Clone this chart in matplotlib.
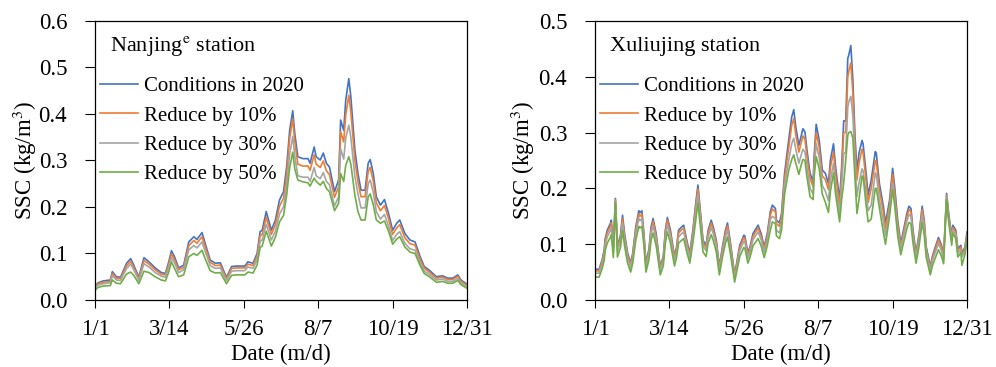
#!/usr/bin/env python3
"""
SSC time series at Nanjing and Xuliujing stations under sediment-reduction scenarios.
"""

import matplotlib
matplotlib.use('Agg')
import matplotlib.pyplot as plt

plt.rcParams['font.family'] = ['Liberation Serif', 'DejaVu Serif']
plt.rcParams['mathtext.fontset'] = 'stix'

# Series labels and colours
labels = ['Conditions in 2020', 'Reduce by 10%', 'Reduce by 30%', 'Reduce by 50%']
colors = ['#4472C4', '#ED7D31', '#A5A5A5', '#70AD47']

date_ticks = [0, 73, 146, 219, 292, 365]
date_labels = ['1/1', '3/14', '5/26', '8/7', '10/19', '12/31']

# Nanjing station (day of year, SSC in kg/m3)
nj_day = [0, 3, 8, 15, 17, 21, 25, 31, 35, 38,
          43, 48, 53, 59, 65, 69, 72, 75, 78, 82,
          87, 92, 97, 100, 105, 108, 113, 118, 123, 126,
          129, 134, 139, 147, 150, 155, 159, 162, 164, 168,
          173, 177, 181, 185, 188, 191, 194, 196, 199, 204,
          209, 211, 215, 217, 221, 224, 227, 230, 235, 239,
          241, 244, 246, 249, 251, 255, 258, 261, 265, 268,
          270, 273, 276, 280, 284, 288, 292, 296, 299, 304,
          309, 314, 319, 323, 328, 335, 341, 346, 351, 356,
          359, 365]
nj_base = [0.030, 0.037, 0.041, 0.043, 0.061, 0.050, 0.049, 0.079, 0.089, 0.075,
           0.049, 0.091, 0.082, 0.069, 0.059, 0.057, 0.079, 0.106, 0.093, 0.069,
           0.075, 0.125, 0.136, 0.130, 0.145, 0.122, 0.086, 0.079, 0.080, 0.064,
           0.049, 0.072, 0.073, 0.073, 0.082, 0.079, 0.100, 0.147, 0.150, 0.190,
           0.150, 0.172, 0.215, 0.233, 0.286, 0.365, 0.407, 0.358, 0.308, 0.304,
           0.304, 0.294, 0.329, 0.308, 0.301, 0.316, 0.294, 0.286, 0.233, 0.258,
           0.387, 0.365, 0.430, 0.476, 0.437, 0.322, 0.272, 0.236, 0.236, 0.294,
           0.302, 0.272, 0.222, 0.204, 0.216, 0.186, 0.150, 0.165, 0.172, 0.143,
           0.129, 0.125, 0.093, 0.072, 0.064, 0.050, 0.052, 0.047, 0.047, 0.054,
           0.043, 0.034]
nj_r10 = [0.028, 0.035, 0.038, 0.040, 0.057, 0.047, 0.046, 0.074, 0.083, 0.070,
          0.046, 0.085, 0.077, 0.065, 0.055, 0.054, 0.074, 0.099, 0.087, 0.065,
          0.070, 0.117, 0.128, 0.122, 0.136, 0.115, 0.081, 0.074, 0.075, 0.060,
          0.046, 0.068, 0.069, 0.069, 0.077, 0.074, 0.094, 0.138, 0.141, 0.178,
          0.141, 0.162, 0.202, 0.219, 0.270, 0.348, 0.390, 0.341, 0.292, 0.288,
          0.288, 0.279, 0.312, 0.292, 0.285, 0.299, 0.278, 0.270, 0.221, 0.243,
          0.362, 0.340, 0.398, 0.440, 0.405, 0.300, 0.254, 0.222, 0.222, 0.277,
          0.285, 0.256, 0.209, 0.192, 0.203, 0.175, 0.141, 0.155, 0.162, 0.134,
          0.121, 0.118, 0.087, 0.068, 0.060, 0.047, 0.049, 0.044, 0.044, 0.051,
          0.040, 0.032]
nj_r30 = [0.026, 0.032, 0.035, 0.037, 0.052, 0.043, 0.042, 0.068, 0.077, 0.065,
          0.042, 0.078, 0.071, 0.059, 0.051, 0.049, 0.068, 0.091, 0.080, 0.059,
          0.065, 0.108, 0.117, 0.112, 0.125, 0.105, 0.074, 0.068, 0.069, 0.055,
          0.042, 0.062, 0.063, 0.063, 0.071, 0.068, 0.086, 0.126, 0.129, 0.163,
          0.129, 0.148, 0.185, 0.200, 0.246, 0.314, 0.352, 0.310, 0.267, 0.264,
          0.264, 0.255, 0.285, 0.267, 0.261, 0.274, 0.255, 0.248, 0.202, 0.222,
          0.325, 0.303, 0.348, 0.376, 0.350, 0.265, 0.228, 0.198, 0.198, 0.250,
          0.258, 0.232, 0.190, 0.174, 0.184, 0.159, 0.128, 0.141, 0.147, 0.122,
          0.110, 0.107, 0.080, 0.062, 0.055, 0.043, 0.045, 0.040, 0.040, 0.046,
          0.037, 0.029]
nj_r50 = [0.021, 0.027, 0.030, 0.031, 0.043, 0.036, 0.035, 0.056, 0.060, 0.053,
          0.035, 0.062, 0.059, 0.050, 0.043, 0.041, 0.058, 0.082, 0.068, 0.050,
          0.054, 0.093, 0.100, 0.096, 0.107, 0.089, 0.063, 0.058, 0.059, 0.047,
          0.035, 0.053, 0.054, 0.054, 0.060, 0.058, 0.075, 0.113, 0.116, 0.148,
          0.116, 0.135, 0.168, 0.182, 0.225, 0.285, 0.318, 0.282, 0.258, 0.254,
          0.252, 0.245, 0.262, 0.255, 0.247, 0.255, 0.240, 0.233, 0.192, 0.208,
          0.272, 0.255, 0.290, 0.308, 0.292, 0.225, 0.190, 0.172, 0.172, 0.222,
          0.228, 0.205, 0.172, 0.165, 0.170, 0.148, 0.120, 0.131, 0.136, 0.114,
          0.103, 0.100, 0.074, 0.057, 0.050, 0.038, 0.040, 0.036, 0.036, 0.042,
          0.033, 0.025]

# Xuliujing station (day of year, SSC in kg/m3)
xlj_day = [0, 4, 7, 9, 10, 12, 15, 16, 18, 20,
           22, 25, 27, 29, 32, 35, 37, 40, 43, 44,
           46, 48, 50, 53, 55, 57, 60, 64, 67, 69,
           71, 74, 78, 80, 82, 85, 87, 90, 93, 96,
           99, 101, 103, 106, 109, 111, 114, 116, 119, 122,
           125, 128, 130, 133, 137, 139, 142, 146, 147, 150,
           152, 155, 160, 163, 166, 169, 172, 174, 177, 178,
           181, 183, 186, 190, 193, 195, 197, 200, 202, 204,
           206, 208, 211, 214, 215, 217, 220, 223, 226, 229,
           231, 234, 236, 240, 242, 244, 246, 248, 249, 251,
           253, 255, 257, 259, 262, 263, 266, 268, 271, 275,
           276, 279, 283, 285, 289, 292, 294, 297, 300, 302,
           306, 308, 310, 312, 315, 318, 321, 323, 325, 329,
           331, 333, 337, 340, 342, 344, 345, 347, 350, 351,
           354, 356, 359, 360, 363, 365]
xlj_base = [0.055, 0.055, 0.072, 0.090, 0.110, 0.125, 0.137, 0.143, 0.095, 0.182,
            0.097, 0.116, 0.152, 0.119, 0.084, 0.066, 0.084, 0.131, 0.160, 0.156,
            0.160, 0.119, 0.066, 0.092, 0.131, 0.146, 0.119, 0.060, 0.078, 0.125,
            0.148, 0.125, 0.078, 0.095, 0.125, 0.131, 0.134, 0.107, 0.084, 0.125,
            0.176, 0.206, 0.167, 0.107, 0.098, 0.125, 0.143, 0.131, 0.107, 0.060,
            0.095, 0.125, 0.138, 0.101, 0.045, 0.066, 0.098, 0.116, 0.115, 0.084,
            0.095, 0.119, 0.134, 0.119, 0.095, 0.119, 0.158, 0.170, 0.164, 0.143,
            0.138, 0.155, 0.227, 0.286, 0.328, 0.341, 0.310, 0.277, 0.292, 0.307,
            0.301, 0.268, 0.227, 0.212, 0.257, 0.315, 0.286, 0.233, 0.227, 0.209,
            0.251, 0.280, 0.239, 0.179, 0.239, 0.321, 0.321, 0.433, 0.439, 0.456,
            0.394, 0.298, 0.230, 0.263, 0.286, 0.280, 0.227, 0.188, 0.215, 0.266,
            0.263, 0.209, 0.167, 0.137, 0.179, 0.236, 0.203, 0.143, 0.101, 0.119,
            0.155, 0.168, 0.164, 0.125, 0.084, 0.119, 0.168, 0.143, 0.095, 0.060,
            0.078, 0.090, 0.112, 0.098, 0.078, 0.155, 0.191, 0.155, 0.113, 0.134,
            0.125, 0.092, 0.098, 0.084, 0.095, 0.122]
xlj_r10 = [0.052, 0.052, 0.069, 0.086, 0.106, 0.120, 0.132, 0.138, 0.091, 0.180,
           0.093, 0.112, 0.146, 0.114, 0.080, 0.063, 0.080, 0.126, 0.154, 0.150,
           0.154, 0.114, 0.063, 0.088, 0.126, 0.141, 0.114, 0.057, 0.075, 0.120,
           0.143, 0.120, 0.075, 0.091, 0.120, 0.126, 0.129, 0.103, 0.080, 0.120,
           0.170, 0.199, 0.161, 0.103, 0.094, 0.120, 0.138, 0.126, 0.103, 0.057,
           0.091, 0.120, 0.133, 0.097, 0.043, 0.063, 0.094, 0.112, 0.111, 0.080,
           0.091, 0.114, 0.129, 0.114, 0.091, 0.114, 0.152, 0.163, 0.158, 0.137,
           0.132, 0.148, 0.218, 0.273, 0.313, 0.325, 0.296, 0.265, 0.280, 0.294,
           0.288, 0.257, 0.218, 0.203, 0.246, 0.300, 0.273, 0.222, 0.216, 0.198,
           0.238, 0.265, 0.226, 0.168, 0.225, 0.300, 0.300, 0.400, 0.410, 0.425,
           0.370, 0.280, 0.215, 0.245, 0.270, 0.265, 0.213, 0.175, 0.200, 0.250,
           0.248, 0.198, 0.157, 0.128, 0.170, 0.225, 0.193, 0.135, 0.097, 0.114,
           0.149, 0.162, 0.158, 0.120, 0.080, 0.114, 0.162, 0.138, 0.091, 0.057,
           0.075, 0.086, 0.108, 0.094, 0.075, 0.150, 0.188, 0.150, 0.110, 0.130,
           0.121, 0.089, 0.095, 0.081, 0.092, 0.118]
xlj_r30 = [0.048, 0.048, 0.064, 0.081, 0.099, 0.113, 0.124, 0.130, 0.085, 0.178,
           0.087, 0.105, 0.138, 0.108, 0.075, 0.058, 0.075, 0.119, 0.146, 0.142,
           0.146, 0.108, 0.058, 0.083, 0.119, 0.133, 0.108, 0.053, 0.070, 0.113,
           0.135, 0.113, 0.070, 0.085, 0.113, 0.119, 0.122, 0.097, 0.075, 0.113,
           0.161, 0.189, 0.152, 0.097, 0.088, 0.113, 0.130, 0.119, 0.097, 0.053,
           0.085, 0.113, 0.125, 0.091, 0.039, 0.058, 0.088, 0.105, 0.104, 0.075,
           0.085, 0.108, 0.122, 0.108, 0.085, 0.108, 0.144, 0.150, 0.146, 0.125,
           0.120, 0.137, 0.205, 0.250, 0.280, 0.290, 0.270, 0.245, 0.258, 0.270,
           0.265, 0.238, 0.200, 0.190, 0.232, 0.280, 0.255, 0.205, 0.195, 0.178,
           0.215, 0.245, 0.205, 0.155, 0.205, 0.262, 0.265, 0.345, 0.355, 0.365,
           0.330, 0.250, 0.185, 0.210, 0.235, 0.232, 0.190, 0.160, 0.170, 0.228,
           0.225, 0.180, 0.140, 0.115, 0.160, 0.210, 0.180, 0.125, 0.091, 0.108,
           0.141, 0.153, 0.150, 0.113, 0.075, 0.108, 0.153, 0.130, 0.085, 0.053,
           0.070, 0.081, 0.101, 0.088, 0.070, 0.148, 0.185, 0.145, 0.106, 0.126,
           0.116, 0.084, 0.090, 0.077, 0.088, 0.114]
xlj_r50 = [0.041, 0.041, 0.056, 0.071, 0.089, 0.102, 0.112, 0.117, 0.076, 0.175,
           0.077, 0.094, 0.125, 0.097, 0.066, 0.050, 0.066, 0.107, 0.132, 0.129,
           0.132, 0.097, 0.050, 0.073, 0.107, 0.120, 0.097, 0.045, 0.061, 0.102,
           0.122, 0.102, 0.061, 0.076, 0.102, 0.107, 0.110, 0.086, 0.066, 0.102,
           0.146, 0.174, 0.138, 0.086, 0.078, 0.102, 0.117, 0.107, 0.086, 0.045,
           0.076, 0.102, 0.113, 0.081, 0.032, 0.050, 0.078, 0.094, 0.093, 0.066,
           0.076, 0.097, 0.110, 0.097, 0.076, 0.097, 0.125, 0.140, 0.137, 0.115,
           0.110, 0.125, 0.190, 0.232, 0.252, 0.260, 0.245, 0.225, 0.240, 0.252,
           0.250, 0.220, 0.185, 0.180, 0.220, 0.257, 0.235, 0.190, 0.175, 0.157,
           0.195, 0.228, 0.190, 0.140, 0.180, 0.210, 0.250, 0.295, 0.300, 0.302,
           0.290, 0.220, 0.155, 0.180, 0.222, 0.222, 0.170, 0.140, 0.145, 0.200,
           0.200, 0.165, 0.120, 0.100, 0.150, 0.198, 0.170, 0.115, 0.081, 0.097,
           0.128, 0.139, 0.136, 0.102, 0.066, 0.097, 0.139, 0.117, 0.076, 0.045,
           0.061, 0.071, 0.090, 0.078, 0.065, 0.145, 0.180, 0.140, 0.098, 0.120,
           0.110, 0.077, 0.085, 0.062, 0.082, 0.108]

FS_TICK = 16.5
FS_LABEL = 16.5
FS_TITLE = 16
FS_LEGEND = 15


def draw_panel(ax, days, series, title, ymax, ylabel_x):
    for values, label, color in zip(series, labels, colors):
        ax.plot(days, values, color=color, lw=1.2, label=label)

    ax.set_xlim(0, 365)
    ax.set_ylim(0, ymax)
    ax.set_xticks(date_ticks)
    ax.set_xticklabels(date_labels)
    ticks = [i / 10 for i in range(int(round(ymax * 10)) + 1)]
    ax.set_yticks(ticks)
    ax.set_yticklabels([f'{t:.1f}' for t in ticks])
    ax.tick_params(axis='x', direction='out', length=6, width=0.8, pad=8, labelsize=FS_TICK)
    ax.tick_params(axis='y', direction='out', length=7, width=0.8, pad=13, labelsize=FS_TICK)
    for sp in ax.spines.values():
        sp.set_linewidth(0.9)
        sp.set_color('black')

    ax.set_xlabel('Date (m/d)', fontsize=FS_LABEL, va='center')
    ax.set_ylabel('SSC (kg/m$^3$)', fontsize=FS_LABEL, va='center')
    ax.xaxis.set_label_coords(0.5, -0.195)
    ax.yaxis.set_label_coords(ylabel_x, 0.5)

    ax.text(0.04, 0.91, title, transform=ax.transAxes, fontsize=FS_TITLE, va='center', ha='left')
    ax.legend(loc='upper left', bbox_to_anchor=(0.013, 0.80), frameon=False,
              fontsize=FS_LEGEND, handlelength=1.85, handletextpad=0.25,
              labelspacing=0.47, borderpad=0, borderaxespad=0)


fig = plt.figure(figsize=(9.96, 3.67), dpi=100)
ax1 = fig.add_axes([0.0954, 0.1826, 0.3735, 0.7602])
ax2 = fig.add_axes([0.5974, 0.1826, 0.3735, 0.7602])

draw_panel(ax1, nj_day, [nj_base, nj_r10, nj_r30, nj_r50],
           'Nanjing$^{\\mathrm{e}}$ station', 0.6, -0.188)
draw_panel(ax2, xlj_day, [xlj_base, xlj_r10, xlj_r30, xlj_r50],
           'Xuliujing station', 0.5, -0.194)

fig.savefig('out.png', dpi=100)
